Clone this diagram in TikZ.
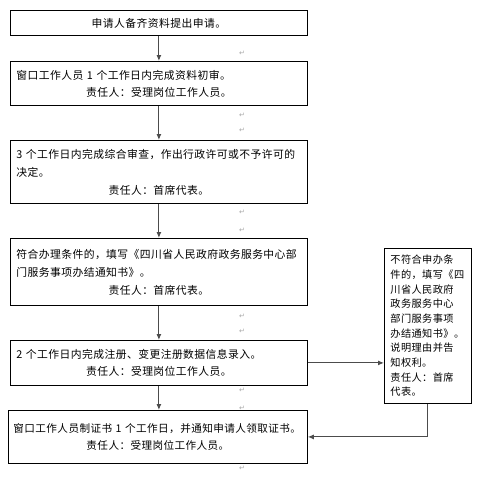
\documentclass[tikz,border=0pt]{standalone}
\usepackage{fontspec}
\setmainfont{Noto Sans CJK SC}[LetterSpace=4]
\newfontfamily\markfont{DejaVu Sans}
\usetikzlibrary{arrows.meta}

\begin{document}
\begin{tikzpicture}[
  x=1pt, y=-1pt,
  stepbox/.style={draw, line width=0.8pt, anchor=north west, inner xsep=6pt, inner ysep=0pt,
    text width=285pt, align=left, font=\fontsize{10.8}{18}\selectfont},
  flow/.style={draw=black!70, line width=1pt, -{Latex[length=6pt,width=5pt]}},
  pmark/.style={text=black!35, font=\markfont\fontsize{7}{7}\selectfont, inner sep=0pt}
]
  \useasboundingbox (0,0) rectangle (503,480);

  \node[stepbox, minimum height=25pt] (apply) at (10,10) {\centerline{申请人备齐资料提出申请。}};
  \node[stepbox, minimum height=44pt, font=\fontsize{10.8}{17}\selectfont] (check) at (10,61)
    {窗口工作人员~1~个工作日内完成资料初审。\par\centerline{责任人：受理岗位工作人员。}};
  \node[stepbox, minimum height=63pt] (review) at (10,140)
    {3~个工作日内完成综合审查，作出行政许可或不予许可的\\决定。\par\centerline{责任人：首席代表。}};
  \node[stepbox, minimum height=67pt] (notice) at (10,238)
    {符合办理条件的，填写《四川省人民政府政务服务中心部\\门服务事项办结通知书》。\par\centerline{责任人：首席代表。}};
  \node[stepbox, minimum height=45pt, font=\fontsize{10.8}{17}\selectfont] (entry) at (10,340)
    {2~个工作日内完成注册、变更注册数据信息录入。\par\centerline{责任人：受理岗位工作人员。}};
  \node[stepbox, minimum height=53pt, inner xsep=5pt, text width=289pt, font=\fontsize{10.6}{17}\selectfont] (issue) at (8,410)
    {\mbox{窗口工作人员制证书~1~个工作日，并通知申请人领取证书。}\par\centerline{责任人：受理岗位工作人员。}};
  \node[stepbox, minimum height=155pt, text width=75pt, font=\fontsize{10.2}{14.7}\selectfont] (reject) at (384,248)
    {不符合申办条\\件的，填写《四\\川省人民政府\\政务服务中心\\部门服务事项\\办结通知书》。\\说明理由并告\\知权利。\\责任人：首席\\代表。};

  % paragraph marks
  \foreach \y [count=\i] in {53,115,130,212,230,316,331,390,408,468}
    \node[pmark] (mark\i) at (242,\y) {↵};

  \draw[flow] (apply) -- (check);
  \draw[flow] (check) -- (review);
  \draw[flow] (review) -- (notice);
  \draw[flow] (notice) -- (entry);
  \draw[flow] (entry.south) -- (entry.south |- issue.north);
  \draw[flow] (entry) -- (entry -| reject.west);
  \draw[flow] (reject.south) |- (issue.east);
\end{tikzpicture}
\end{document}
